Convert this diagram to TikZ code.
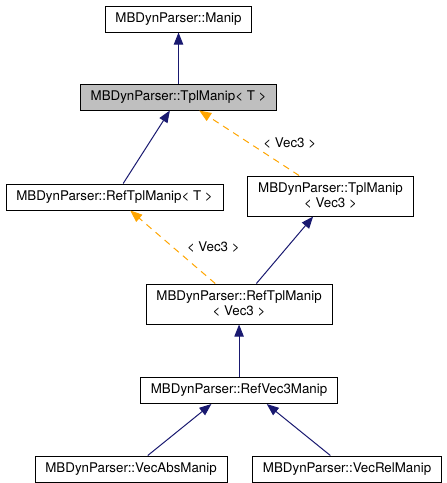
\documentclass[tikz,border=0pt]{standalone}
\usepackage{fontspec}
\setmainfont{TeX Gyre Heros}
\usetikzlibrary{arrows.meta,positioning}

\definecolor{edgeblue}{HTML}{191970}
\definecolor{edgeorange}{HTML}{FFA500}
\definecolor{thisgray}{HTML}{BFBFBF}

\tikzset{
  classbox/.style={draw=black, line width=0.75pt, fill=white,
    inner xsep=7.75pt, inner ysep=2pt, minimum height=19.5pt,
    align=center, font=\fontsize{10}{11.25}\selectfont},
  twoline/.style={classbox, minimum height=30pt},
  inherit/.style={draw=edgeblue, line width=0.75pt,
    -{Triangle[length=9pt,width=7pt]}},
  instance/.style={draw=edgeorange, line width=0.75pt,
    dash pattern=on 5pt off 4pt,
    -{Triangle[length=9pt,width=7pt]}},
  tmplarg/.style={font=\fontsize{10}{11.25}\selectfont, right=7pt}
}

\begin{document}
\begin{tikzpicture}
  \useasboundingbox (0,0) rectangle (335.25pt,-362.25pt);

  \node (manip)
        [classbox]
        at (133.9pt,-14.25pt)
        {MBDynParser::Manip};
  \node (tplManipT)
        [classbox,fill=thisgray,below=38.25pt of manip]
        {MBDynParser::TplManip< T >};
  \node (refTplManipT)
        [classbox,below=54.75pt of tplManipT,xshift=-48pt]
        {MBDynParser::RefTplManip< T >};
  \node (tplManipVec)
        [twoline,below=48.75pt of tplManipT,xshift=114pt]
        {MBDynParser::TplManip\\< Vec3 >};
  \node (refTplManipVec)
        [twoline,below=50.25pt of tplManipVec,xshift=-68.6pt]
        {MBDynParser::RefTplManip\\< Vec3 >};
  \node (refVecManip)
        [classbox,below=39.4pt of refTplManipVec]
        {MBDynParser::RefVec3Manip};
  \node (vecAbsManip)
        [classbox,below=38.6pt of refVecManip,xshift=-81pt]
        {MBDynParser::VecAbsManip};
  \node (vecRelManip)
        [classbox,below=38.6pt of refVecManip,xshift=81pt]
        {MBDynParser::VecRelManip};

  \draw[inherit] (tplManipT) -- (manip);
  \draw[inherit] (refTplManipT) -- (tplManipT);
  \draw[instance] (tplManipVec) -- node[tmplarg] {< Vec3 >} (tplManipT);
  \draw[instance] (refTplManipVec) -- node[tmplarg] {< Vec3 >} (refTplManipT);
  \draw[inherit] (refTplManipVec) -- (tplManipVec);
  \draw[inherit] (refVecManip) -- (refTplManipVec);
  \draw[inherit] (vecAbsManip) -- (refVecManip.-154);
  \draw[inherit] (vecRelManip) -- (refVecManip.-26);
\end{tikzpicture}
\end{document}
